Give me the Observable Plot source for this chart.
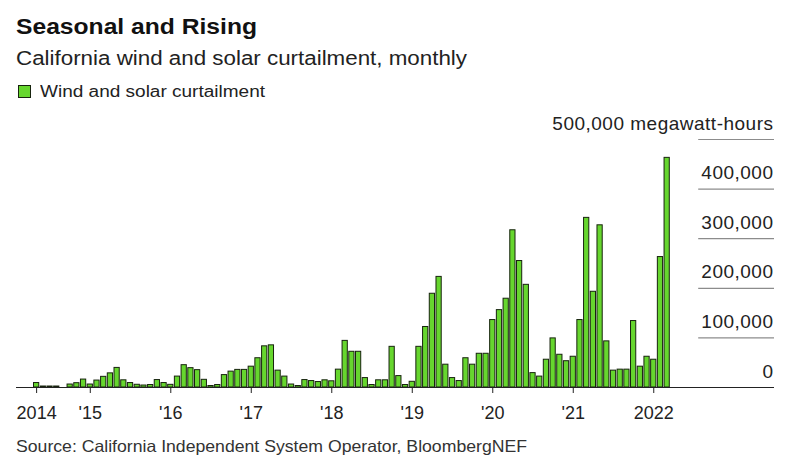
<!DOCTYPE html>
<html>
<head>
<meta charset="utf-8">
<script src="https://cdn.jsdelivr.net/npm/d3@7"></script>
<script src="https://cdn.jsdelivr.net/npm/@observablehq/plot@0.6"></script>
<style>
  html, body { margin: 0; padding: 0; background: #fff; }
  #page { position: relative; width: 800px; height: 473px; overflow: hidden;
          font-family: "Liberation Sans", Arial, Helvetica, sans-serif; }
  .fit { position: absolute; white-space: nowrap; line-height: 1; transform-origin: 0 0; }
  #title { left: 16px; top: 16px; font-size: 22px; font-weight: bold; color: #111; }
  #subtitle { left: 16px; top: 48px; font-size: 20px; color: #222; }
  #legend-swatch { position: absolute; left: 18px; top: 85px; width: 11px; height: 11px;
                   background: #66d62e; border: 1px solid #17230e; }
  #legend-label { left: 40px; top: 83.5px; font-size: 16px; color: #222; }
  #chart { position: absolute; left: 0; top: 100px; }
  #source { left: 16px; top: 438px; font-size: 16.5px; color: #333; }
</style>
</head>
<body>
<div id="page">
  <div id="title" class="fit" data-w="241">Seasonal and Rising</div>
  <div id="subtitle" class="fit" data-w="451">California wind and solar curtailment, monthly</div>
  <div id="legend-swatch"></div>
  <div id="legend-label" class="fit" data-w="225">Wind and solar curtailment</div>
  <div id="chart"></div>
  <div id="source" class="fit" data-w="511">Source: California Independent System Operator, BloombergNEF</div>
</div>
<script>
// Monthly wind and solar curtailment in megawatt-hours, starting May 2014
const firstMonth = "2014-05";
const curtailment2014 = [9000, 2000, 2000, 2000, 0, 6000, 8700, 16000];
const curtailment2015 = [6000, 14000, 21500, 28500, 39500, 14500, 9000, 5500, 4000, 5000, 15000, 9000];
const curtailment2016 = [5400, 22000, 45000, 39000, 35000, 15500, 3000, 5000, 25000, 32000, 35500, 35500];
const curtailment2017 = [42000, 59000, 83000, 85000, 34000, 22000, 6000, 3000, 15000, 13000, 11000, 14500];
const curtailment2018 = [12500, 36000, 94000, 72000, 72000, 19000, 5000, 14500, 14500, 82000, 23000, 5000];
const curtailment2019 = [11500, 82000, 122000, 189000, 223000, 46000, 19000, 13000, 59000, 46000, 68000, 68000];
const curtailment2020 = [136000, 156000, 179000, 317000, 255000, 207000, 29000, 22000, 56000, 99000, 66000, 53000];
const curtailment2021 = [62000, 136000, 342000, 193000, 327000, 93000, 34000, 36000, 36000, 134000, 42000, 62000];
const curtailment2022 = [56000, 263000, 463000];

// Axis ticks
const xTickMonths = ["2014-05", "2015-01", "2016-01", "2017-01", "2018-01", "2019-01", "2020-01", "2021-01", "2022-01"];
const xTickLabels = ["2014", "'15", "'16", "'17", "'18", "'19", "'20", "'21", "2022"];
const yTicks = [0, 100000, 200000, 300000, 400000, 500000];
const yTickLabels = ["0", "100,000", "200,000", "300,000", "400,000", "500,000 megawatt-hours"];

// Month string -> number of months since the first month
function monthIndex(m) {
  const [y, mo] = m.split("-").map(Number);
  const [y0, m0] = firstMonth.split("-").map(Number);
  return (y - y0) * 12 + (mo - m0);
}

const values = [
  ...curtailment2014, ...curtailment2015, ...curtailment2016, ...curtailment2017,
  ...curtailment2018, ...curtailment2019, ...curtailment2020, ...curtailment2021, ...curtailment2022
];
const data = values.map((v, i) => ({i, v}));
const xTicks = xTickMonths.map(monthIndex);

// x runs in month units; the empty stretch on the right holds the value labels
const xDomain = [-3, 110];
const gridStart = 98.7;
const halfBar = 0.39;

const chart = Plot.plot({
  width: 800,
  height: 330,
  marginLeft: 16,
  marginRight: 26,
  marginTop: 39,
  marginBottom: 43,
  x: {type: "linear", domain: xDomain, axis: null},
  y: {domain: [0, 500000], axis: null},
  style: {fontFamily: "Liberation Sans, Arial, Helvetica, sans-serif", background: "transparent", overflow: "visible"},
  marks: [
    Plot.ruleY(yTicks.filter(d => d > 0), {y: d => d, x1: gridStart, x2: xDomain[1], stroke: "#8c8c8c", strokeWidth: 1.2}),
    Plot.rect(data, {
      x1: d => d.i - halfBar, x2: d => d.i + halfBar, y1: 0, y2: "v",
      fill: "#66d62e", stroke: "#17230e", strokeWidth: 1
    }),
    Plot.ruleY([0], {stroke: "#222", strokeWidth: 1.2}),
    Plot.axisX(xTicks, {
      x: d => d,
      tickSize: 6,
      tickPadding: 13,
      tickFormat: d => xTickLabels[xTicks.indexOf(d)],
      fontSize: 18,
      stroke: "#222",
      fill: "#222"
    }),
    Plot.text(yTicks, {
      y: d => d,
      text: (d, i) => yTickLabels[i],
      frameAnchor: "right",
      textAnchor: "end",
      lineAnchor: "bottom",
      dx: -1,
      dy: -10,
      fontSize: 19,
      fill: "#222"
    })
  ]
});

document.getElementById("chart").appendChild(chart);
d3.select(chart).selectAll('g[aria-label="text"] text').style("letter-spacing", "0.5px");

// Stretch header and footer texts to their set widths
document.querySelectorAll(".fit").forEach(el => {
  const w = el.getBoundingClientRect().width;
  el.style.transform = `scaleX(${(+el.dataset.w / w).toFixed(4)})`;
});
</script>
</body>
</html>
